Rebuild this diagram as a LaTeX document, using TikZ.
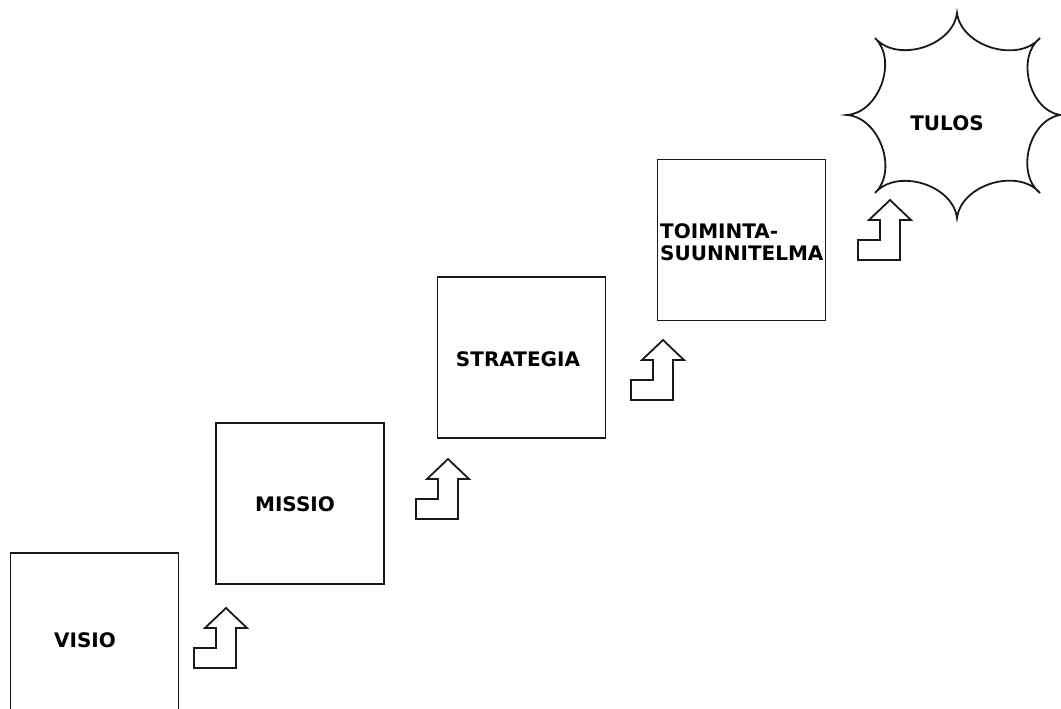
\documentclass[tikz,border=0pt]{standalone}
\usepackage{fontspec}
\setmainfont{DejaVu Sans}
\begin{document}
\begin{tikzpicture}[x=1pt,y=-1pt,
  outline/.style={draw=black!90, line width=1.8pt},
  stage/.style={outline, minimum width=168pt, minimum height=161pt, inner sep=0pt},
  caption/.style={font=\fontsize{20}{22}\selectfont\bfseries, inner sep=0pt},
  stairarrow/.pic={\draw[outline, line join=miter]
      (0,0) -- (21,20) -- (10,20) -- (10,60) -- (-32,60) -- (-32,40)
      -- (-10,40) -- (-10,20) -- (-21,20) -- cycle;}
]
\useasboundingbox (0,0) rectangle (1061,709);
\clip (0,0) rectangle (1061,709);

% stages of the staircase
\node[stage, minimum height=168pt] (visio) at (94.5,637) {};
\node[stage] (missio) at (300,503.5) {};
\node[stage] (strategia) at (521.5,357.5) {};
\node[stage] (toiminta) at (741.5,240) {};

\node[caption] (tvisio) at (85,640) {VISIO};
\node[caption] (tmissio) at (295,504) {MISSIO};
\node[caption] (tstrategia) at (518,359) {STRATEGIA};
\node[caption, anchor=west, align=left] (ttoiminta) at (660,242) {TOIMINTA-\\SUUNNITELMA};

% step arrows between stages
\pic (a1) at (226,608) {stairarrow};
\pic (a2) at (448,459) {stairarrow};
\pic (a3) at (663,340) {stairarrow};
\pic (a4) at (890,200) {stairarrow};

% result burst: eight cusps joined by inward arcs
\draw[outline, line join=miter]
  (957,13) to[bend right=66] (1040,38) to[bend right=66] (1060,115)
  to[bend right=66] (1040,193) to[bend right=66] (957,218)
  to[bend right=66] (875,193) to[bend right=66] (847,115)
  to[bend right=66] (875,38) to[bend right=66] cycle;
\node[caption] (ttulos) at (947,123) {TULOS};
\end{tikzpicture}
\end{document}
